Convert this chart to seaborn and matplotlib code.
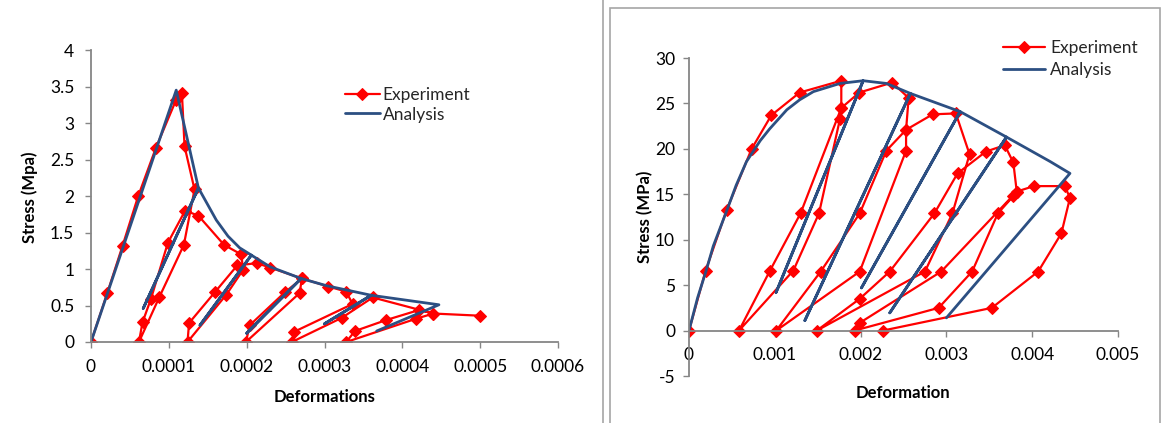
import numpy as np
import pandas as pd
import matplotlib
matplotlib.use('Agg')
import matplotlib.pyplot as plt
import seaborn as sns
from matplotlib.ticker import FuncFormatter
from matplotlib.lines import Line2D
from matplotlib.patches import Rectangle

# ---------------- data: left chart ----------------
left_exp_x = [0, 0.0000209, 0.0000406, 0.0000607, 0.0000834, 0.0001095, 0.0001168, 0.0001202, 0.000133,
              0.0001193, 0.000088, 0.0000616,
              0.0000662, 0.000077, 0.0000988, 0.000121, 0.000138,
              0.000171, 0.000193, 0.0001955,
              0.000174, 0.000124,
              0.000126, 0.000159, 0.000188, 0.000213, 0.000230, 0.000271, 0.000268,
              0.000199,
              0.000204, 0.000249, 0.000271, 0.000305, 0.000328, 0.000336,
              0.000261, 0.000258,
              0.000322, 0.000362, 0.00044, 0.000418,
              0.000328, 0.000339, 0.000379, 0.000422, 0.00044, 0.0005]
left_exp_y = [0, 0.67, 1.32, 2.00, 2.66, 3.32, 3.41, 2.68, 2.09,
              1.33, 0.62, 0,
              0.27, 0.59, 1.36, 1.80, 1.73,
              1.33, 1.20, 0.99,
              0.65, 0,
              0.26, 0.68, 1.05, 1.08, 1.02, 0.87, 0.67,
              0,
              0.23, 0.68, 0.87, 0.76, 0.69, 0.52,
              0.14, 0,
              0.33, 0.61, 0.39, 0.32,
              0, 0.15, 0.30, 0.44, 0.39, 0.36]

left_ana_x = [0, 0.0001095, 0.000138, 0.0000671, 0.000138, 0.000161, 0.000176, 0.000191, 0.000206,
              0.00014, 0.000206, 0.00023, 0.00027, 0.0002, 0.00027, 0.000303, 0.00036,
              0.0003, 0.00036, 0.000447, 0.000367]
left_ana_y = [0, 3.45, 2.11, 0.46, 2.11, 1.67, 1.45, 1.29, 1.19,
              0.23, 1.19, 1.03, 0.87, 0.12, 0.87, 0.77, 0.64,
              0.25, 0.64, 0.51, 0.15]

left_xticks = [0, 0.0001, 0.0002, 0.0003, 0.0004, 0.0005, 0.0006]
left_yticks = [0, 0.5, 1, 1.5, 2, 2.5, 3, 3.5, 4]

# ---------------- data: right chart ----------------
right_exp_x = [0, 0.000194, 0.00044, 0.00073, 0.00096, 0.00129, 0.001775, 0.001775, 0.00176,
               0.001515, 0.001216, 0.000583,
               0.000944, 0.0013, 0.001775,
               0.001985, 0.00237, 0.00256, 0.00253, 0.00253,
               0.00199, 0.001017,
               0.001535, 0.00199, 0.0023, 0.00253, 0.00284, 0.00311, 0.00327,
               0.00307, 0.00275, 0.00149,
               0.00199, 0.00234, 0.00286, 0.00313, 0.00346, 0.00368, 0.00378, 0.00382, 0.00378,
               0.0036, 0.0033, 0.00291, 0.00193,
               0.00199, 0.00294, 0.00382, 0.00402, 0.00438, 0.00444, 0.00434, 0.00407, 0.00353, 0.00226]
right_exp_y = [0, 6.6, 13.3, 20.0, 23.7, 26.2, 27.5, 24.5, 23.3,
               12.9, 6.6, 0,
               6.6, 12.9, 24.5,
               26.2, 27.3, 25.6, 22.1, 19.8,
               6.5, 0,
               6.5, 12.9, 19.8, 22.1, 23.8, 23.9, 19.4,
               12.9, 6.5, 0,
               3.5, 6.5, 12.9, 17.3, 19.7, 20.4, 18.5, 15.3, 14.8,
               12.9, 6.5, 2.5, 0,
               0.85, 6.5, 15.3, 15.9, 15.9, 14.6, 10.7, 6.5, 2.5, 0]

right_ana_x = [0, 0.0001, 0.0002, 0.000283, 0.00044, 0.00055, 0.00067, 0.00083, 0.00094, 0.00114,
               0.00129, 0.00145, 0.00176, 0.00203,
               0.001015, 0.00203, 0.0023, 0.00258,
               0.00135, 0.00258, 0.00316,
               0.00201, 0.00316, 0.0037,
               0.00234, 0.0037, 0.00421, 0.00444, 0.003]
right_ana_y = [0, 3.6, 6.6, 9.3, 13.2, 16.0, 18.6, 20.9, 22.2, 24.3,
               25.4, 26.3, 27.2, 27.5,
               4.2, 27.5, 27.2, 26.1,
               1.1, 26.1, 24.1,
               4.7, 24.1, 21.3,
               1.95, 21.3, 18.6, 17.3, 1.4]

right_xticks = [0, 0.001, 0.002, 0.003, 0.004, 0.005]
right_yticks = [-5, 0, 5, 10, 15, 20, 25, 30]

# ---------------- style ----------------
sns.set_theme(style='white')
plt.rcParams['font.family'] = ['Lato', 'DejaVu Sans']
plt.rcParams['axes.unicode_minus'] = False

RED = '#FF0000'
BLUE = '#2C4F82'
GRAY = '#868686'
FS = 12.5

W, H = 1168, 423
fig = plt.figure(figsize=(W / 100, H / 100), dpi=100)
fig.patch.set_facecolor('white')

axL = fig.add_axes([91 / W, 1 - 342 / H, 467 / W, 292 / H])
axR = fig.add_axes([689 / W, 1 - 376 / H, 429 / W, 318 / H])

fmt = FuncFormatter(lambda v, p: '%g' % v)


def draw(ax, ex, ey, bx, by, ypad):
    dfe = pd.DataFrame({'x': ex, 'y': ey})
    dfa = pd.DataFrame({'x': bx, 'y': by})
    sns.lineplot(data=dfe, x='x', y='y', sort=False, estimator=None, color=RED,
                 marker='D', markersize=6, markeredgecolor=RED, linewidth=1.6,
                 ax=ax, label='Experiment')
    sns.lineplot(data=dfa, x='x', y='y', sort=False, estimator=None, color=BLUE,
                 linewidth=2.0, ax=ax, label='Analysis')
    for s in ['top', 'right']:
        ax.spines[s].set_visible(False)
    for s in ['left', 'bottom']:
        ax.spines[s].set_color(GRAY)
        ax.spines[s].set_linewidth(1.3)
    ax.tick_params(axis='both', which='both', direction='out', length=4, width=1,
                   color=GRAY, labelsize=FS, labelcolor='black', bottom=True, left=True)
    ax.tick_params(axis='x', pad=8)
    ax.tick_params(axis='y', pad=ypad)
    ax.xaxis.set_major_formatter(fmt)
    ax.yaxis.set_major_formatter(fmt)
    ax.set_facecolor('white')


draw(axL, left_exp_x, left_exp_y, left_ana_x, left_ana_y, 8)
axL.set_xlim(0, 0.0006)
axL.set_ylim(0, 4)
axL.set_xticks(left_xticks)
axL.set_yticks(left_yticks)
axL.set_xlabel('Deformations', fontsize=12, fontweight='bold', color='black')
axL.set_ylabel('Stress (Mpa)', fontsize=12, fontweight='bold', color='black')
axL.xaxis.set_label_coords(0.501, -0.16)
axL.yaxis.set_label_coords(-0.131, 0.497)
axL.yaxis.label.set_va('center')
axL.legend(loc='upper left', bbox_to_anchor=(0.544, 0.873), frameon=False, fontsize=FS,
           handlelength=2.0, handletextpad=0.17, labelspacing=0.2, borderpad=0, borderaxespad=0)

draw(axR, right_exp_x, right_exp_y, right_ana_x, right_ana_y, 6)
axR.set_xlim(0, 0.005)
axR.set_ylim(-5, 30)
axR.set_xticks(right_xticks)
axR.set_yticks(right_yticks)
axR.spines['bottom'].set_position(('data', 0))
axR.set_xlabel('Deformation', fontsize=12, fontweight='bold', color='black')
axR.set_ylabel('Stress (MPa)', fontsize=12, fontweight='bold', color='black')
axR.xaxis.set_label_coords(0.499, -0.028)
axR.yaxis.set_label_coords(-0.103, 0.5)
axR.yaxis.label.set_va('center')
axR.legend(loc='upper left', bbox_to_anchor=(0.732, 1.057), frameon=False, fontsize=FS,
           handlelength=2.4, handletextpad=0.3, labelspacing=0.33, borderpad=0, borderaxespad=0)

# chart frames
fig.add_artist(Line2D([603 / W, 603 / W], [0, 1], color='#A6A6A6', lw=1.2, transform=fig.transFigure))
fig.add_artist(Rectangle((610 / W, -0.1), (1160 - 610) / W, 1.1 - 8 / H, fill=False,
                         edgecolor='#A6A6A6', lw=1.2, transform=fig.transFigure))

fig.savefig('out.png', dpi=100)
